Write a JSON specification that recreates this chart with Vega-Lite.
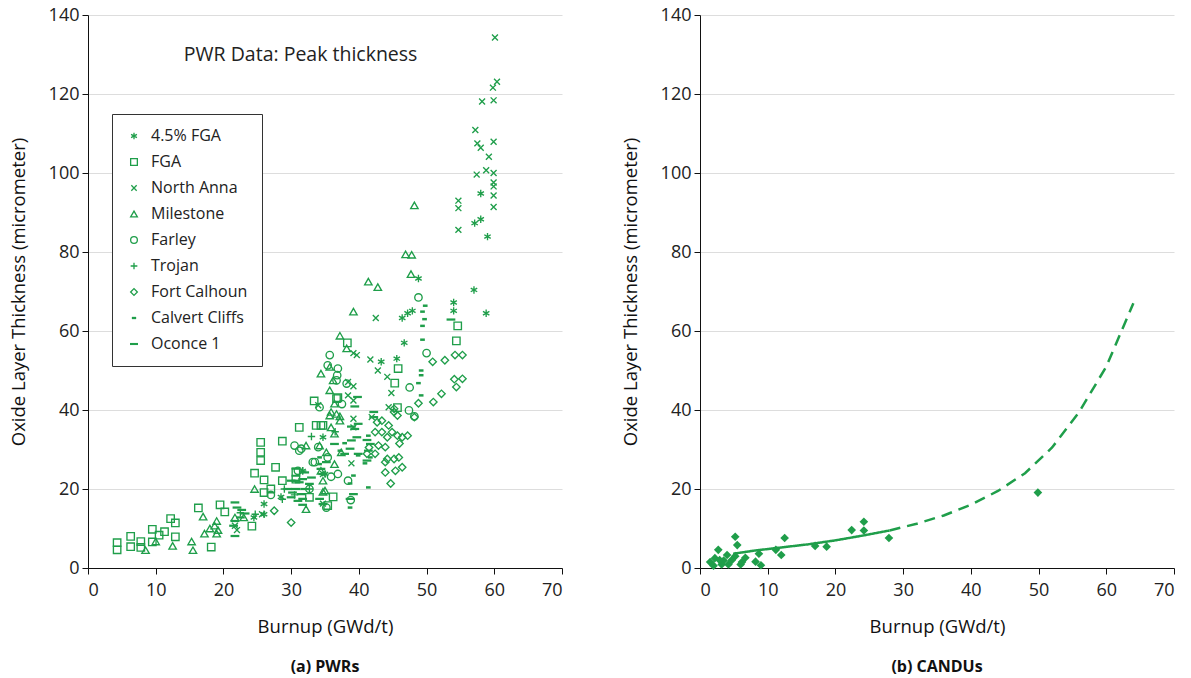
{
  "$schema": "https://vega.github.io/schema/vega-lite/v6.json",
  "padding": {"left": 9, "top": 6, "right": 2, "bottom": 0},
  "background": "white",
  "spacing": 58,
  "config": {
    "view": {"stroke": null},
    "font": "Open Sans",
    "axis": {"labelFont": "Open Sans", "titleFont": "Open Sans", "labelFontSize": 18, "titleFontSize": 18.5, "titleFontWeight": "normal", "domainColor": "#111", "tickColor": "#111", "labelColor": "#222", "titleColor": "#111", "tickSize": 6, "grid": false, "labelPadding": 3},
    "axisY": {"grid": true, "gridColor": "#dddddd", "titlePadding": 20},
    "axisX": {"titlePadding": 18, "labelPadding": 7},
    "title": {"font": "Open Sans", "fontSize": 16, "fontWeight": "bold", "orient": "bottom", "offset": 23, "color": "#111"}
  },
  "datasets": {
    "pwr": [
      {"b":58.0,"t":94.8,"s":"4.5% FGA"},{"b":57.1,"t":87.3,"s":"4.5% FGA"},{"b":58.0,"t":88.3,"s":"4.5% FGA"},{"b":59.0,"t":83.9,"s":"4.5% FGA"},{"b":48.8,"t":73.3,"s":"4.5% FGA"},{"b":57.0,"t":70.4,"s":"4.5% FGA"},{"b":54.0,"t":67.2,"s":"4.5% FGA"},{"b":54.0,"t":65.1,"s":"4.5% FGA"},{"b":58.8,"t":64.5,"s":"4.5% FGA"},{"b":47.9,"t":65.1,"s":"4.5% FGA"},{"b":47.2,"t":64.5,"s":"4.5% FGA"},{"b":46.4,"t":63.3,"s":"4.5% FGA"},{"b":46.7,"t":57.0,"s":"4.5% FGA"},{"b":43.3,"t":52.2,"s":"4.5% FGA"},{"b":45.6,"t":53.0,"s":"4.5% FGA"},{"b":34.7,"t":33.1,"s":"4.5% FGA"},{"b":31.7,"t":24.6,"s":"4.5% FGA"},{"b":35.0,"t":23.8,"s":"4.5% FGA"},{"b":24.5,"t":12.8,"s":"4.5% FGA"},{"b":26.0,"t":13.6,"s":"4.5% FGA"},{"b":26.0,"t":16.2,"s":"4.5% FGA"},{"b":28.5,"t":18.0,"s":"4.5% FGA"},
      {"b":4.3,"t":6.4,"s":"FGA"},{"b":4.3,"t":4.6,"s":"FGA"},{"b":6.3,"t":8.0,"s":"FGA"},{"b":6.3,"t":5.4,"s":"FGA"},{"b":7.8,"t":6.7,"s":"FGA"},{"b":7.8,"t":5.2,"s":"FGA"},{"b":9.5,"t":9.8,"s":"FGA"},{"b":9.5,"t":6.6,"s":"FGA"},{"b":10.5,"t":8.3,"s":"FGA"},{"b":11.3,"t":9.2,"s":"FGA"},{"b":12.9,"t":11.4,"s":"FGA"},{"b":12.2,"t":12.5,"s":"FGA"},{"b":12.9,"t":7.9,"s":"FGA"},{"b":16.3,"t":15.2,"s":"FGA"},{"b":19.5,"t":16.0,"s":"FGA"},{"b":20.2,"t":14.2,"s":"FGA"},{"b":18.2,"t":5.3,"s":"FGA"},{"b":31.2,"t":35.6,"s":"FGA"},{"b":33.7,"t":36.1,"s":"FGA"},{"b":34.7,"t":36.1,"s":"FGA"},{"b":25.5,"t":31.8,"s":"FGA"},{"b":28.7,"t":32.1,"s":"FGA"},{"b":25.5,"t":29.3,"s":"FGA"},{"b":25.5,"t":27.2,"s":"FGA"},{"b":27.7,"t":25.5,"s":"FGA"},{"b":24.6,"t":24.0,"s":"FGA"},{"b":26.0,"t":22.3,"s":"FGA"},{"b":28.7,"t":22.1,"s":"FGA"},{"b":26.0,"t":19.1,"s":"FGA"},{"b":27.0,"t":20.0,"s":"FGA"},{"b":24.2,"t":10.6,"s":"FGA"},{"b":30.7,"t":24.2,"s":"FGA"},{"b":38.3,"t":57.0,"s":"FGA"},{"b":45.8,"t":50.5,"s":"FGA"},{"b":45.3,"t":46.8,"s":"FGA"},{"b":45.7,"t":40.6,"s":"FGA"},{"b":36.9,"t":43.1,"s":"FGA"},{"b":34.4,"t":36.1,"s":"FGA"},{"b":54.4,"t":57.5,"s":"FGA"},{"b":54.6,"t":61.3,"s":"FGA"},{"b":33.4,"t":42.3,"s":"FGA"},{"b":36.7,"t":42.9,"s":"FGA"},{"b":30.7,"t":22.5,"s":"FGA"},{"b":32.7,"t":17.9,"s":"FGA"},{"b":35.4,"t":15.8,"s":"FGA"},{"b":36.2,"t":18.0,"s":"FGA"},
      {"b":60.1,"t":134.3,"s":"North Anna"},{"b":60.4,"t":123.1,"s":"North Anna"},{"b":59.8,"t":121.6,"s":"North Anna"},{"b":58.2,"t":118.1,"s":"North Anna"},{"b":59.9,"t":118.4,"s":"North Anna"},{"b":57.2,"t":110.9,"s":"North Anna"},{"b":57.5,"t":107.5,"s":"North Anna"},{"b":59.9,"t":107.9,"s":"North Anna"},{"b":58.0,"t":106.4,"s":"North Anna"},{"b":59.2,"t":104.1,"s":"North Anna"},{"b":57.4,"t":99.6,"s":"North Anna"},{"b":58.8,"t":100.7,"s":"North Anna"},{"b":59.9,"t":100.0,"s":"North Anna"},{"b":59.9,"t":97.6,"s":"North Anna"},{"b":59.9,"t":96.6,"s":"North Anna"},{"b":59.9,"t":94.3,"s":"North Anna"},{"b":59.9,"t":91.4,"s":"North Anna"},{"b":54.7,"t":93.0,"s":"North Anna"},{"b":54.7,"t":91.1,"s":"North Anna"},{"b":54.7,"t":85.6,"s":"North Anna"},{"b":42.5,"t":63.3,"s":"North Anna"},{"b":39.7,"t":53.9,"s":"North Anna"},{"b":41.7,"t":52.8,"s":"North Anna"},{"b":42.8,"t":50.0,"s":"North Anna"},{"b":44.2,"t":48.4,"s":"North Anna"},{"b":44.8,"t":44.3,"s":"North Anna"},{"b":44.4,"t":40.7,"s":"North Anna"},{"b":39.2,"t":46.0,"s":"North Anna"},{"b":38.4,"t":43.7,"s":"North Anna"},{"b":39.2,"t":37.8,"s":"North Anna"},{"b":39.2,"t":35.6,"s":"North Anna"},{"b":38.9,"t":26.5,"s":"North Anna"},{"b":34.7,"t":23.8,"s":"North Anna"},{"b":34.0,"t":41.2,"s":"North Anna"},{"b":38.4,"t":47.1,"s":"North Anna"},{"b":41.9,"t":38.2,"s":"North Anna"},{"b":39.2,"t":42.4,"s":"North Anna"},{"b":21.7,"t":10.7,"s":"North Anna"},{"b":34.7,"t":16.3,"s":"North Anna"},{"b":25.7,"t":13.6,"s":"North Anna"},{"b":22.0,"t":9.6,"s":"North Anna"},{"b":39.2,"t":54.4,"s":"North Anna"},
      {"b":17.0,"t":13.0,"s":"Milestone"},{"b":19.0,"t":11.9,"s":"Milestone"},{"b":18.7,"t":10.7,"s":"Milestone"},{"b":17.2,"t":8.7,"s":"Milestone"},{"b":19.0,"t":8.7,"s":"Milestone"},{"b":19.2,"t":9.6,"s":"Milestone"},{"b":10.0,"t":6.7,"s":"Milestone"},{"b":8.5,"t":4.5,"s":"Milestone"},{"b":12.5,"t":5.6,"s":"Milestone"},{"b":15.3,"t":6.7,"s":"Milestone"},{"b":15.5,"t":4.5,"s":"Milestone"},{"b":24.6,"t":20.0,"s":"Milestone"},{"b":21.7,"t":12.8,"s":"Milestone"},{"b":23.0,"t":12.8,"s":"Milestone"},{"b":32.2,"t":14.9,"s":"Milestone"},{"b":32.2,"t":31.0,"s":"Milestone"},{"b":34.2,"t":31.0,"s":"Milestone"},{"b":34.7,"t":22.1,"s":"Milestone"},{"b":34.7,"t":19.3,"s":"Milestone"},{"b":37.2,"t":58.8,"s":"Milestone"},{"b":38.2,"t":55.6,"s":"Milestone"},{"b":34.4,"t":49.2,"s":"Milestone"},{"b":35.7,"t":50.9,"s":"Milestone"},{"b":36.2,"t":47.5,"s":"Milestone"},{"b":35.7,"t":45.0,"s":"Milestone"},{"b":36.4,"t":41.6,"s":"Milestone"},{"b":36.7,"t":39.0,"s":"Milestone"},{"b":37.2,"t":37.3,"s":"Milestone"},{"b":35.9,"t":35.6,"s":"Milestone"},{"b":35.2,"t":29.3,"s":"Milestone"},{"b":36.4,"t":26.3,"s":"Milestone"},{"b":35.7,"t":38.6,"s":"Milestone"},{"b":41.4,"t":72.5,"s":"Milestone"},{"b":42.8,"t":71.1,"s":"Milestone"},{"b":39.2,"t":64.9,"s":"Milestone"},{"b":48.2,"t":91.8,"s":"Milestone"},{"b":46.9,"t":79.4,"s":"Milestone"},{"b":47.8,"t":79.3,"s":"Milestone"},{"b":47.7,"t":74.4,"s":"Milestone"},{"b":35.9,"t":39.5,"s":"Milestone"},{"b":37.2,"t":38.4,"s":"Milestone"},{"b":36.4,"t":34.0,"s":"Milestone"},{"b":34.4,"t":24.6,"s":"Milestone"},{"b":35.0,"t":19.6,"s":"Milestone"},{"b":37.4,"t":29.3,"s":"Milestone"},{"b":18.0,"t":10.0,"s":"Milestone"},
      {"b":48.8,"t":68.5,"s":"Farley"},{"b":35.7,"t":53.9,"s":"Farley"},{"b":35.4,"t":51.3,"s":"Farley"},{"b":36.9,"t":50.5,"s":"Farley"},{"b":36.8,"t":48.8,"s":"Farley"},{"b":36.7,"t":47.5,"s":"Farley"},{"b":38.2,"t":46.7,"s":"Farley"},{"b":34.2,"t":40.7,"s":"Farley"},{"b":50.0,"t":54.4,"s":"Farley"},{"b":47.5,"t":45.7,"s":"Farley"},{"b":47.4,"t":39.9,"s":"Farley"},{"b":48.2,"t":38.4,"s":"Farley"},{"b":30.5,"t":31.0,"s":"Farley"},{"b":31.5,"t":30.2,"s":"Farley"},{"b":34.0,"t":30.6,"s":"Farley"},{"b":33.5,"t":26.8,"s":"Farley"},{"b":35.4,"t":28.0,"s":"Farley"},{"b":36.9,"t":23.8,"s":"Farley"},{"b":35.9,"t":23.1,"s":"Farley"},{"b":32.7,"t":20.0,"s":"Farley"},{"b":38.4,"t":22.1,"s":"Farley"},{"b":35.2,"t":15.3,"s":"Farley"},{"b":38.8,"t":17.2,"s":"Farley"},{"b":31.0,"t":24.6,"s":"Farley"},{"b":31.2,"t":29.7,"s":"Farley"},{"b":33.2,"t":26.8,"s":"Farley"},{"b":37.5,"t":41.5,"s":"Farley"},{"b":27.0,"t":18.5,"s":"Farley"},
      {"b":33.0,"t":33.3,"s":"Trojan"},{"b":31.7,"t":24.6,"s":"Trojan"},{"b":28.7,"t":17.4,"s":"Trojan"},{"b":24.7,"t":13.6,"s":"Trojan"},{"b":32.7,"t":20.0,"s":"Trojan"},{"b":30.5,"t":18.5,"s":"Trojan"},{"b":29.0,"t":20.0,"s":"Trojan"},{"b":36.5,"t":34.5,"s":"Trojan"},{"b":22.5,"t":14.0,"s":"Trojan"},
      {"b":50.9,"t":52.2,"s":"Fort Calhoun"},{"b":52.7,"t":52.6,"s":"Fort Calhoun"},{"b":54.2,"t":53.9,"s":"Fort Calhoun"},{"b":55.3,"t":53.9,"s":"Fort Calhoun"},{"b":54.1,"t":47.8,"s":"Fort Calhoun"},{"b":55.3,"t":47.9,"s":"Fort Calhoun"},{"b":54.4,"t":45.8,"s":"Fort Calhoun"},{"b":52.2,"t":44.1,"s":"Fort Calhoun"},{"b":51.0,"t":42.0,"s":"Fort Calhoun"},{"b":48.8,"t":41.7,"s":"Fort Calhoun"},{"b":45.2,"t":39.5,"s":"Fort Calhoun"},{"b":45.7,"t":38.6,"s":"Fort Calhoun"},{"b":43.4,"t":37.3,"s":"Fort Calhoun"},{"b":42.7,"t":36.9,"s":"Fort Calhoun"},{"b":44.4,"t":36.1,"s":"Fort Calhoun"},{"b":43.4,"t":34.4,"s":"Fort Calhoun"},{"b":42.4,"t":34.4,"s":"Fort Calhoun"},{"b":44.9,"t":34.4,"s":"Fort Calhoun"},{"b":44.2,"t":33.1,"s":"Fort Calhoun"},{"b":45.7,"t":33.5,"s":"Fort Calhoun"},{"b":47.2,"t":33.5,"s":"Fort Calhoun"},{"b":46.4,"t":33.1,"s":"Fort Calhoun"},{"b":42.9,"t":31.0,"s":"Fort Calhoun"},{"b":43.9,"t":30.6,"s":"Fort Calhoun"},{"b":42.4,"t":28.9,"s":"Fort Calhoun"},{"b":44.2,"t":27.6,"s":"Fort Calhoun"},{"b":45.2,"t":27.6,"s":"Fort Calhoun"},{"b":45.9,"t":28.0,"s":"Fort Calhoun"},{"b":46.4,"t":25.5,"s":"Fort Calhoun"},{"b":45.4,"t":24.6,"s":"Fort Calhoun"},{"b":43.9,"t":24.2,"s":"Fort Calhoun"},{"b":43.9,"t":26.8,"s":"Fort Calhoun"},{"b":44.7,"t":21.4,"s":"Fort Calhoun"},{"b":41.2,"t":28.9,"s":"Fort Calhoun"},{"b":45.2,"t":40.3,"s":"Fort Calhoun"},{"b":48.2,"t":38.2,"s":"Fort Calhoun"},{"b":30.0,"t":11.5,"s":"Fort Calhoun"},{"b":27.5,"t":14.5,"s":"Fort Calhoun"},{"b":41.5,"t":30.5,"s":"Fort Calhoun"},{"b":46.0,"t":31.5,"s":"Fort Calhoun"},
      {"b":49.8,"t":66.4,"s":"Calvert Cliffs"},{"b":49.4,"t":64.9,"s":"Calvert Cliffs"},{"b":49.7,"t":63.0,"s":"Calvert Cliffs"},{"b":49.4,"t":61.3,"s":"Calvert Cliffs"},{"b":49.4,"t":57.8,"s":"Calvert Cliffs"},{"b":49.2,"t":50.0,"s":"Calvert Cliffs"},{"b":49.2,"t":48.8,"s":"Calvert Cliffs"},{"b":48.8,"t":46.8,"s":"Calvert Cliffs"},{"b":49.2,"t":43.7,"s":"Calvert Cliffs"},{"b":41.4,"t":20.4,"s":"Calvert Cliffs"},{"b":38.7,"t":15.3,"s":"Calvert Cliffs"},{"b":41.4,"t":33.5,"s":"Calvert Cliffs"},{"b":39.9,"t":28.5,"s":"Calvert Cliffs"},{"b":41.7,"t":28.0,"s":"Calvert Cliffs"},{"b":39.2,"t":23.4,"s":"Calvert Cliffs"},{"b":38.7,"t":21.4,"s":"Calvert Cliffs"},{"b":40.9,"t":26.5,"s":"Calvert Cliffs"},{"b":34.2,"t":28.0,"s":"Calvert Cliffs"},{"b":34.2,"t":26.3,"s":"Calvert Cliffs"},{"b":37.9,"t":31.6,"s":"Calvert Cliffs"},{"b":37.2,"t":29.7,"s":"Calvert Cliffs"},
      {"b":53.6,"t":62.9,"s":"Oconce 1"},{"b":39.8,"t":43.3,"s":"Oconce 1"},{"b":39.4,"t":40.9,"s":"Oconce 1"},{"b":42.2,"t":39.5,"s":"Oconce 1"},{"b":39.9,"t":36.5,"s":"Oconce 1"},{"b":39.4,"t":35.2,"s":"Oconce 1"},{"b":42.2,"t":38.2,"s":"Oconce 1"},{"b":39.7,"t":33.1,"s":"Oconce 1"},{"b":41.2,"t":32.4,"s":"Oconce 1"},{"b":41.7,"t":31.4,"s":"Oconce 1"},{"b":41.4,"t":29.7,"s":"Oconce 1"},{"b":39.9,"t":28.9,"s":"Oconce 1"},{"b":41.2,"t":27.2,"s":"Oconce 1"},{"b":37.9,"t":28.9,"s":"Oconce 1"},{"b":36.4,"t":31.4,"s":"Oconce 1"},{"b":38.7,"t":30.2,"s":"Oconce 1"},{"b":39.2,"t":18.7,"s":"Oconce 1"},{"b":38.7,"t":17.5,"s":"Oconce 1"},{"b":34.4,"t":25.1,"s":"Oconce 1"},{"b":35.2,"t":26.8,"s":"Oconce 1"},{"b":33.0,"t":22.9,"s":"Oconce 1"},{"b":30.7,"t":22.1,"s":"Oconce 1"},{"b":30.0,"t":22.1,"s":"Oconce 1"},{"b":32.7,"t":21.3,"s":"Oconce 1"},{"b":30.7,"t":20.0,"s":"Oconce 1"},{"b":32.0,"t":20.0,"s":"Oconce 1"},{"b":31.5,"t":18.7,"s":"Oconce 1"},{"b":31.0,"t":17.0,"s":"Oconce 1"},{"b":34.2,"t":17.5,"s":"Oconce 1"},{"b":34.7,"t":16.2,"s":"Oconce 1"},{"b":30.7,"t":25.2,"s":"Oconce 1"},{"b":32.0,"t":24.2,"s":"Oconce 1"},{"b":31.7,"t":22.5,"s":"Oconce 1"},{"b":31.2,"t":21.7,"s":"Oconce 1"},{"b":30.2,"t":19.1,"s":"Oconce 1"},{"b":30.0,"t":17.9,"s":"Oconce 1"},{"b":31.7,"t":17.5,"s":"Oconce 1"},{"b":31.7,"t":16.0,"s":"Oconce 1"},{"b":21.7,"t":16.6,"s":"Oconce 1"},{"b":22.0,"t":15.3,"s":"Oconce 1"},{"b":22.7,"t":14.7,"s":"Oconce 1"},{"b":23.2,"t":13.8,"s":"Oconce 1"},{"b":22.5,"t":12.8,"s":"Oconce 1"},{"b":21.7,"t":11.9,"s":"Oconce 1"},{"b":21.5,"t":10.7,"s":"Oconce 1"},{"b":21.7,"t":8.1,"s":"Oconce 1"},{"b":34.7,"t":23.8,"s":"Oconce 1"},{"b":38.9,"t":35.8,"s":"Oconce 1"},{"b":38.9,"t":32.3,"s":"Oconce 1"},{"b":29.5,"t":20.0,"s":"Oconce 1"}
    ],
    "candu": [
      {"b":1.5,"t":1.5},{"b":2.2,"t":2.5},{"b":2.7,"t":4.6},{"b":3.2,"t":0.9},{"b":3.5,"t":1.9},{"b":4.0,"t":3.3},{"b":4.2,"t":0.9},{"b":5.2,"t":7.9},{"b":5.5,"t":5.8},{"b":5.2,"t":3.0},{"b":6.0,"t":0.9},{"b":6.7,"t":2.6},{"b":8.2,"t":1.6},{"b":8.7,"t":3.6},{"b":9.0,"t":0.7},{"b":11.2,"t":4.6},{"b":12.0,"t":3.3},{"b":12.5,"t":7.6},{"b":17.0,"t":5.6},{"b":18.7,"t":5.4},{"b":22.4,"t":9.6},{"b":24.2,"t":11.7},{"b":24.2,"t":9.5},{"b":27.9,"t":7.6},{"b":49.9,"t":19.1},{"b":2.0,"t":0.6},{"b":4.7,"t":2.0},{"b":6.2,"t":1.5},{"b":2.9,"t":2.0}
    ],
    "fit": [
      {"b":4.9,"t":3.6,"part":"fit"},{"b":8,"t":4.4,"part":"fit"},{"b":12,"t":5.2,"part":"fit"},{"b":16,"t":6.0,"part":"fit"},{"b":20,"t":7.0,"part":"fit"},{"b":24,"t":8.2,"part":"fit"},{"b":28,"t":9.5,"part":"fit"},
      {"b":28,"t":9.5,"part":"extrapolated"},{"b":32,"t":11.2,"part":"extrapolated"},{"b":36,"t":13.3,"part":"extrapolated"},{"b":40,"t":16.0,"part":"extrapolated"},{"b":44,"t":19.5,"part":"extrapolated"},{"b":48,"t":24.0,"part":"extrapolated"},{"b":52,"t":30.5,"part":"extrapolated"},{"b":56,"t":39.5,"part":"extrapolated"},{"b":60,"t":51.0,"part":"extrapolated"},{"b":64,"t":67.0,"part":"extrapolated"}
    ]
  },
  "hconcat": [
    {
      "width": 474,
      "height": 553,
      "title": {"text": "(a) PWRs"},
      "layer": [
        {
          "data": {"name": "pwr"},
          "mark": {"type": "point", "filled": false, "size": 55, "strokeWidth": 1.35, "color": "#1f9e4a", "opacity": 1},
          "encoding": {
            "x": {"field": "b", "type": "quantitative", "scale": {"domain": [0, 70], "nice": false}, "axis": {"title": "Burnup (GWd/t)", "values": [0, 10, 20, 30, 40, 50, 60, 70]}},
            "y": {"field": "t", "type": "quantitative", "scale": {"domain": [0, 140], "nice": false}, "axis": {"title": "Oxide Layer Thickness (micrometer)", "values": [0, 20, 40, 60, 80, 100, 120, 140]}},
            "shape": {
              "field": "s", "type": "nominal",
              "scale": {
                "domain": ["4.5% FGA", "FGA", "North Anna", "Milestone", "Farley", "Trojan", "Fort Calhoun", "Calvert Cliffs", "Oconce 1"],
                "range": ["M0,-1L0,1M-0.87,-0.5L0.87,0.5M-0.87,0.5L0.87,-0.5", "square", "M-0.8,-0.8L0.8,0.8M-0.8,0.8L0.8,-0.8", "triangle-up", "circle", "M0,-1L0,1M-1,0L1,0", "diamond", "M-0.45,-0.15L0.45,-0.15L0.45,0.15L-0.45,0.15Z", "M-1,-0.12L1,-0.12L1,0.12L-1,0.12Z"]
              },
              "legend": {"orient": "none", "legendX": 24, "legendY": 99, "title": null, "strokeColor": "#333", "fillColor": "white", "padding": 14, "labelFontSize": 16, "labelFont": "Open Sans", "labelColor": "#222", "rowPadding": 10, "symbolSize": 45, "symbolStrokeWidth": 1.3, "symbolStrokeColor": "#1f9e4a", "symbolFillColor": "transparent", "labelOffset": 9}
            }
          }
        },
        {
          "data": {"values": [{"b": 31.4, "t": 130, "label": "PWR Data: Peak thickness"}]},
          "mark": {"type": "text", "fontSize": 19.5, "font": "Open Sans", "color": "#222"},
          "encoding": {
            "x": {"field": "b", "type": "quantitative"},
            "y": {"field": "t", "type": "quantitative"},
            "text": {"field": "label"}
          }
        }
      ]
    },
    {
      "width": 474,
      "height": 553,
      "title": {"text": "(b) CANDUs"},
      "layer": [
        {
          "data": {"name": "fit"},
          "mark": {"type": "line", "color": "#1f9e4a", "strokeWidth": 2.5},
          "encoding": {
            "x": {"field": "b", "type": "quantitative", "scale": {"domain": [0, 70], "nice": false}, "axis": {"title": "Burnup (GWd/t)", "values": [0, 10, 20, 30, 40, 50, 60, 70]}},
            "y": {"field": "t", "type": "quantitative", "scale": {"domain": [0, 140], "nice": false}, "axis": {"title": "Oxide Layer Thickness (micrometer)", "values": [0, 20, 40, 60, 80, 100, 120, 140]}},
            "strokeDash": {"field": "part", "type": "nominal", "scale": {"domain": ["fit", "extrapolated"], "range": [[1, 0], [11, 7]]}, "legend": null}
          }
        },
        {
          "data": {"name": "candu"},
          "mark": {"type": "point", "shape": "diamond", "filled": true, "size": 75, "color": "#1f9e4a", "opacity": 1},
          "encoding": {
            "x": {"field": "b", "type": "quantitative"},
            "y": {"field": "t", "type": "quantitative"}
          }
        }
      ]
    }
  ]
}
